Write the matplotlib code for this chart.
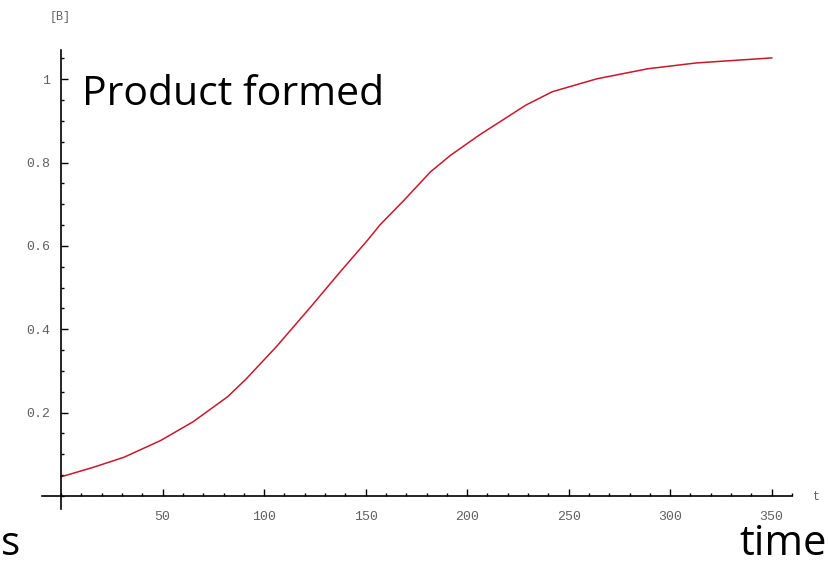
import matplotlib.pyplot as plt
from matplotlib.ticker import MultipleLocator

# values
t = [0, 16, 31, 49, 65, 82, 91, 106, 123, 137, 151, 157, 169, 182, 192, 206,
     229, 242, 264, 289, 313, 350]
B = [0.046, 0.069, 0.093, 0.133, 0.178, 0.238, 0.280, 0.358, 0.454, 0.535, 0.614,
     0.650, 0.710, 0.778, 0.818, 0.866, 0.938, 0.970, 1.001, 1.025, 1.039, 1.051]
xticks = [50, 100, 150, 200, 250, 300, 350]
yticks = [0.2, 0.4, 0.6, 0.8, 1]
ylabels = ["0.2", "0.4", "0.6", "0.8", "1"]

W, H = 829, 565
fig = plt.figure(figsize=(W / 100, H / 100), dpi=100)

# axes box in pixels: x from 42 to 792, y from 50 to 508.5
ax = fig.add_axes([42 / W, (H - 508.5) / H, 750 / W, 458.5 / H])
ax.set_xlim(-9.4, 360)
ax.set_ylim(-0.03, 1.07)

ax.plot(t, B, color="#c8182c", lw=1.1)

for s in ["top", "right"]:
    ax.spines[s].set_visible(False)
ax.spines["left"].set_position(("data", 0))
ax.spines["bottom"].set_position(("data", 0))
ax.spines["left"].set_linewidth(1.2)
ax.spines["bottom"].set_linewidth(1.2)

mono = "Liberation Mono"
gray = "#606060"
ax.set_xticks(xticks)
ax.set_xticklabels([str(v) for v in xticks], family=mono, fontsize=9.5, color=gray)
ax.set_yticks(yticks)
ax.set_yticklabels(ylabels, family=mono, fontsize=9.5, color=gray)
ax.xaxis.set_minor_locator(MultipleLocator(10))
ax.yaxis.set_minor_locator(MultipleLocator(0.05))
ax.tick_params(axis="both", which="major", direction="in", length=5, width=1)
ax.tick_params(axis="both", which="minor", direction="in", length=2.5, width=1)
ax.tick_params(axis="y", which="major", pad=8)
ax.tick_params(axis="x", which="major", pad=11)

fig.text(60 / W, 1 - 17 / H, "[B]", family=mono, fontsize=8.5, color=gray,
         ha="center", va="center")
fig.text(816 / W, 1 - 497 / H, "t", family=mono, fontsize=8.5, color=gray,
         ha="center", va="center")

fig.text(82 / W, 1 - 95 / H, "Product formed", family="Open Sans", fontsize=29.5,
         ha="left", va="center")
fig.text(1 / W, 1 - 555 / H, "s", family="Open Sans", fontsize=29,
         ha="left", va="baseline")
fig.text(827 / W, 1 - 555 / H, "time", family="Open Sans", fontsize=30,
         ha="right", va="baseline")

fig.savefig("out.png", dpi=100)
